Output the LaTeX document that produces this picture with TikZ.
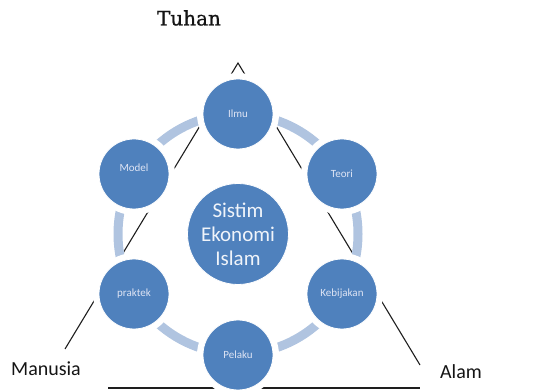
\documentclass[tikz,border=0pt]{standalone}
\usepackage{fontspec}
\setmainfont{Carlito}
\newfontfamily\titlefont[FakeBold=0.8]{DejaVu Serif}
\begin{document}
\begin{tikzpicture}[x=1pt,y=-1pt,
  ringcol/.style={draw={rgb,255:red,176;green,196;blue,224}, line width=9pt},
  edgeline/.style={draw={rgb,255:red,30;green,30;blue,30}, line width=1.1pt},
  halo/.style={fill=white},
  smallball/.style={circle, fill={rgb,255:red,79;green,129;blue,189}, draw=white, line width=0.8pt,
    minimum size=70pt, inner sep=0pt, font=\fontsize{11}{12}\selectfont,
    text={rgb,255:red,222;green,228;blue,244}},
  bigball/.style={circle, fill={rgb,255:red,79;green,129;blue,189}, draw=white, line width=0.8pt,
    minimum size=101pt, inner sep=0pt, align=center, font=\fontsize{21}{24}\selectfont,
    text={rgb,255:red,240;green,244;blue,250}},
  corner/.style={font=\fontsize{20}{22}\selectfont, text={rgb,255:red,20;green,20;blue,20}}
]
\useasboundingbox (0,0) rectangle (536,390);

% positions on the cycle
\coordinate (hub) at (238,234);
\coordinate (pIlmu) at (238,114);
\coordinate (pTeori) at (342,174);
\coordinate (pKebijakan) at (342,294);
\coordinate (pPelaku) at (238,355);
\coordinate (pPraktek) at (134,294);
\coordinate (pModel) at (134,174);

% outer triangle
\coordinate (apex) at (238,63);
\coordinate (leftend) at (65,349);
\coordinate (rightend) at (420,365);
\coordinate (baseL) at (108,388);
\coordinate (baseR) at (420,388);
\draw[edgeline] (leftend) -- (apex) -- (rightend);
\draw[edgeline] (baseL) -- (baseR);

% cycle ring
\draw[ringcol] (hub) circle (120);

% white gaps around the small circles
\foreach \p in {pIlmu,pTeori,pKebijakan,pPelaku,pPraktek,pModel}
  \fill[halo] (\p) circle (41);

% circles
\node[bigball] (center) at (hub) {Sistim\\Ekonomi\\Islam};
\node[smallball] (ilmu) at (pIlmu) {Ilmu};
\node[smallball] (teori) at (pTeori) {Teori};
\node[smallball] (kebijakan) at (pKebijakan) {Kebijakan};
\node[smallball] (pelaku) at (pPelaku) {Pelaku};
\node[smallball] (praktek) at (pPraktek) {praktek};
\node[smallball, text depth=12pt] (model) at (pModel) {Model};

% corner labels
\node[font=\titlefont\fontsize{20}{22}\selectfont, text={rgb,255:red,20;green,20;blue,20}] (tuhan) at (189,18) {Tuhan};
\node[corner] (manusia) at (46,369) {Manusia};
\node[corner] (alam) at (461,372) {Alam};
\end{tikzpicture}
\end{document}
